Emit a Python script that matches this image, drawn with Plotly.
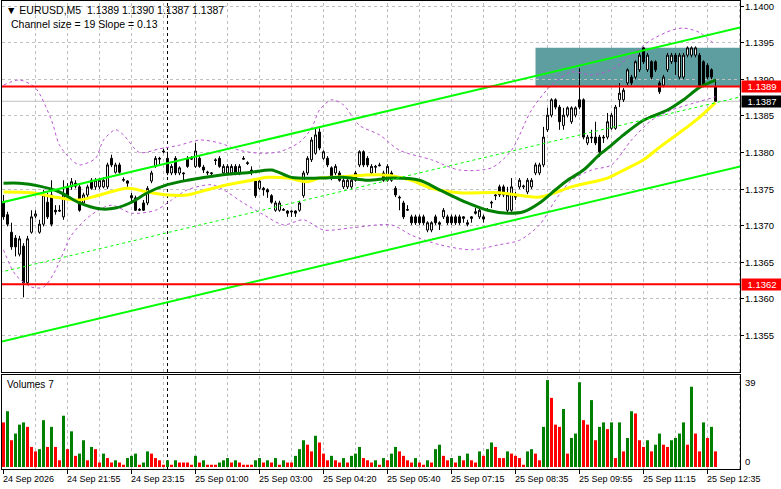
import plotly.graph_objects as go

# ---------------- data ----------------
bars = list(range(179))

open_ = [
1.13732,1.13715,1.13691,1.13683,1.13661,1.13672,1.13622,1.13691,1.13713,1.13691,
1.13702,1.13732,1.13742,1.13721,1.13721,1.13712,1.13753,1.13753,1.13758,1.13753,
1.13731,1.13742,1.13762,1.13753,1.13753,1.13753,1.13753,1.13792,1.13773,1.13783,
1.13762,1.13761,1.13741,1.13738,1.13721,1.13731,1.13731,1.13761,1.13781,1.13792,
1.13802,1.13792,1.13772,1.13792,1.13772,1.13772,1.13792,1.13792,1.13781,1.13792,
1.13780,1.13772,1.13771,1.13790,1.13792,1.13772,1.13772,1.13772,1.13781,1.13772,
1.13792,1.13786,1.13776,1.13761,1.13751,1.13751,1.13749,1.13741,1.13721,1.13721,
1.13721,1.13720,1.13720,1.13720,1.13721,1.13741,1.13772,1.13790,1.13799,1.13828,
1.13792,1.13792,1.13779,1.13772,1.13772,1.13753,1.13753,1.13753,1.13772,1.13783,
1.13801,1.13792,1.13772,1.13781,1.13783,1.13772,1.13762,1.13772,1.13751,1.13739,
1.13731,1.13721,1.13712,1.13712,1.13712,1.13712,1.13694,1.13694,1.13712,1.13704,
1.13712,1.13712,1.13712,1.13712,1.13712,1.13712,1.13704,1.13712,1.13719,1.13712,
1.13712,1.13721,1.13732,1.13742,1.13753,1.13753,1.13721,1.13721,1.13742,1.13753,
1.13753,1.13746,1.13753,1.13772,1.13772,1.13783,1.13831,1.13851,1.13872,1.13862,
1.13837,1.13851,1.13842,1.13851,1.13872,1.13872,1.13813,1.13821,1.13821,1.13821,
1.13821,1.13821,1.13833,1.13833,1.13872,1.13872,1.13895,1.13903,1.13903,1.13913,
1.13943,1.13913,1.13924,1.13924,1.13895,1.13892,1.13913,1.13924,1.13933,1.13903,
1.13903,1.13933,1.13933,1.13933,1.13933,1.13924,1.13919,1.13913,1.13890]

high_ = [
1.13742,1.13719,1.13704,1.13687,1.13686,1.13676,1.13686,1.13721,1.13721,1.13708,
1.13749,1.13745,1.13762,1.13728,1.13728,1.13762,1.13758,1.13765,1.13762,1.13757,
1.13745,1.13756,1.13765,1.13765,1.13765,1.13766,1.13786,1.13797,1.13786,1.13786,
1.13766,1.13762,1.13745,1.13741,1.13724,1.13735,1.13754,1.13775,1.13795,1.13794,
1.13805,1.13801,1.13784,1.13795,1.13781,1.13773,1.13795,1.13795,1.13813,1.13795,
1.13783,1.13775,1.13773,1.13792,1.13795,1.13784,1.13784,1.13784,1.13784,1.13784,
1.13795,1.13788,1.13781,1.13764,1.13764,1.13753,1.13751,1.13743,1.13734,1.13734,
1.13724,1.13721,1.13721,1.13721,1.13734,1.13775,1.13795,1.13821,1.13832,1.13833,
1.13803,1.13795,1.13781,1.13784,1.13775,1.13765,1.13765,1.13765,1.13775,1.13803,
1.13803,1.13795,1.13784,1.13783,1.13786,1.13775,1.13784,1.13775,1.13754,1.13741,
1.13734,1.13728,1.13715,1.13715,1.13715,1.13715,1.13706,1.13706,1.13715,1.13706,
1.13724,1.13715,1.13715,1.13715,1.13715,1.13713,1.13708,1.13713,1.13724,1.13724,
1.13715,1.13724,1.13734,1.13743,1.13756,1.13756,1.13753,1.13765,1.13746,1.13765,
1.13756,1.13765,1.13765,1.13786,1.13786,1.13835,1.13861,1.13874,1.13874,1.13865,
1.13861,1.13863,1.13863,1.13863,1.13915,1.13874,1.13824,1.13831,1.13842,1.13824,
1.13824,1.13854,1.13854,1.13865,1.13895,1.13888,1.13915,1.13906,1.13926,1.13936,
1.13944,1.13936,1.13926,1.13926,1.13898,1.13906,1.13936,1.13936,1.13936,1.13936,
1.13936,1.13945,1.13945,1.13945,1.13936,1.13926,1.13922,1.13915,1.13900]

low_ = [
1.13708,1.13699,1.13667,1.13658,1.13658,1.13602,1.13619,1.13689,1.13710,1.13689,
1.13699,1.13709,1.13699,1.13715,1.13719,1.13708,1.13735,1.13749,1.13751,1.13719,
1.13728,1.13739,1.13749,1.13749,1.13750,1.13751,1.13750,1.13780,1.13771,1.13771,
1.13760,1.13753,1.13732,1.13720,1.13720,1.13720,1.13728,1.13758,1.13779,1.13783,
1.13799,1.13769,1.13769,1.13769,1.13769,1.13762,1.13779,1.13790,1.13779,1.13779,
1.13772,1.13769,1.13769,1.13783,1.13779,1.13769,1.13769,1.13769,1.13769,1.13769,
1.13790,1.13783,1.13769,1.13738,1.13749,1.13741,1.13738,1.13730,1.13719,1.13719,
1.13720,1.13712,1.13712,1.13712,1.13719,1.13738,1.13769,1.13787,1.13797,1.13803,
1.13790,1.13780,1.13762,1.13769,1.13760,1.13750,1.13750,1.13750,1.13760,1.13780,
1.13780,1.13780,1.13769,1.13772,1.13781,1.13760,1.13760,1.13760,1.13739,1.13721,
1.13709,1.13720,1.13701,1.13701,1.13701,1.13701,1.13691,1.13691,1.13701,1.13694,
1.13709,1.13701,1.13701,1.13701,1.13701,1.13704,1.13699,1.13704,1.13715,1.13709,
1.13704,1.13720,1.13724,1.13735,1.13739,1.13739,1.13717,1.13719,1.13735,1.13750,
1.13750,1.13743,1.13750,1.13769,1.13769,1.13780,1.13828,1.13848,1.13859,1.13831,
1.13831,1.13848,1.13839,1.13848,1.13859,1.13818,1.13810,1.13813,1.13810,1.13794,
1.13813,1.13818,1.13831,1.13831,1.13862,1.13869,1.13892,1.13892,1.13900,1.13910,
1.13921,1.13910,1.13900,1.13910,1.13880,1.13889,1.13910,1.13921,1.13906,1.13900,
1.13900,1.13930,1.13930,1.13930,1.13889,1.13889,1.13900,1.13900,1.13870]

close_ = [
1.13712,1.13702,1.13671,1.13671,1.13682,1.13622,1.13682,1.13712,1.13716,1.13702,
1.13742,1.13712,1.13702,1.13719,1.13720,1.13742,1.13739,1.13760,1.13754,1.13721,
1.13742,1.13753,1.13751,1.13762,1.13762,1.13762,1.13783,1.13783,1.13783,1.13773,
1.13763,1.13758,1.13738,1.13721,1.13722,1.13721,1.13751,1.13772,1.13792,1.13791,
1.13801,1.13772,1.13781,1.13772,1.13779,1.13771,1.13781,1.13791,1.13802,1.13781,
1.13776,1.13773,1.13772,1.13789,1.13781,1.13781,1.13781,1.13781,1.13772,1.13781,
1.13791,1.13785,1.13773,1.13741,1.13761,1.13749,1.13746,1.13732,1.13731,1.13731,
1.13722,1.13717,1.13719,1.13717,1.13731,1.13772,1.13792,1.13817,1.13824,1.13806,
1.13801,1.13783,1.13765,1.13781,1.13762,1.13762,1.13762,1.13762,1.13762,1.13801,
1.13783,1.13783,1.13781,1.13780,1.13782,1.13762,1.13781,1.13762,1.13742,1.13738,
1.13712,1.13722,1.13704,1.13704,1.13704,1.13704,1.13704,1.13704,1.13704,1.13702,
1.13721,1.13704,1.13704,1.13704,1.13704,1.13710,1.13702,1.13710,1.13717,1.13721,
1.13709,1.13722,1.13731,1.13741,1.13742,1.13742,1.13742,1.13753,1.13739,1.13762,
1.13754,1.13762,1.13762,1.13783,1.13783,1.13821,1.13851,1.13872,1.13862,1.13842,
1.13851,1.13861,1.13861,1.13861,1.13862,1.13821,1.13821,1.13820,1.13813,1.13801,
1.13820,1.13842,1.13851,1.13862,1.13881,1.13885,1.13913,1.13895,1.13924,1.13933,
1.13924,1.13933,1.13903,1.13913,1.13883,1.13903,1.13933,1.13933,1.13924,1.13933,
1.13933,1.13943,1.13943,1.13943,1.13892,1.13892,1.13903,1.13903,1.13870]

volumes = [
20,25,12,15,19,20,18,9,7,8,21,9,18,9,3,23,8,16,5,6,12,3,9,8,2,6,4,2,3,2,
1,4,5,6,1,2,7,6,4,3,1,3,1,3,2,2,2,1,5,2,3,1,1,1,2,3,4,2,3,2,1,1,1,3,4,
2,3,2,4,1,3,2,2,5,8,12,10,7,14,11,6,3,5,3,2,4,2,5,6,9,4,3,2,3,1,
4,3,6,9,7,5,3,2,4,2,1,3,2,8,10,5,3,4,2,5,3,6,3,2,7,5,8,11,9,
4,4,7,6,5,4,1,7,8,6,3,18,39,31,19,18,26,6,13,15,38,21,19,30,12,18,20,17,20,4,
20,7,13,25,24,12,9,12,7,10,15,10,9,12,13,15,20,10,36,15,7,20,13,18,7]

# moving averages
ma_fast_bars = [0,4,9,14,19,24,28,32,36,41,46,54,62,67,72,79,85,91,97,104,109,116,121,126,130,134,138,141,145,149,152,155,160,166,170,174,178]
ma_fast_vals = [1.13758,1.13758,1.13754,1.13746,1.13731,1.13723,1.13724,1.13732,1.13745,1.13756,1.13762,1.13769,1.13773,1.13776,1.13766,1.13765,1.13766,1.13762,1.13765,1.13762,1.13749,1.13731,1.13721,1.13717,1.13719,1.13731,1.13749,1.13762,1.13776,1.13797,1.13810,1.13824,1.13844,1.13858,1.13872,1.13889,1.13899]

ma_slow_bars = [0,7,14,19,24,31,36,41,46,51,56,62,66,71,76,79,82,90,96,102,107,114,124,134,142,151,154,160,164,170,174,178]
ma_slow_vals = [1.13746,1.13745,1.13738,1.13735,1.13742,1.13751,1.13746,1.13742,1.13742,1.13749,1.13756,1.13762,1.13766,1.13765,1.13760,1.13765,1.13766,1.13769,1.13769,1.13762,1.13751,1.13745,1.13745,1.13739,1.13753,1.13765,1.13773,1.13790,1.13807,1.13831,1.13848,1.13868]

band_up_bars = [0,4,8,12,14,17,19,23,25,28,30,34,39,44,49,54,59,64,69,74,77,79,82,85,89,94,99,107,114,122,127,132,137,142,147,152,157,162,167,170,174,178]
band_up_vals = [1.13892,1.13899,1.13888,1.13844,1.13810,1.13790,1.13783,1.13792,1.13817,1.13831,1.13824,1.13800,1.13805,1.13810,1.13817,1.13813,1.13803,1.13799,1.13801,1.13814,1.13833,1.13858,1.13872,1.13865,1.13837,1.13824,1.13803,1.13790,1.13776,1.13779,1.13803,1.13858,1.13892,1.13910,1.13906,1.13913,1.13933,1.13954,1.13967,1.13970,1.13964,1.13947]

band_lo_bars = [0,3,7,10,13,17,22,27,32,38,42,46,52,55,60,65,70,75,80,87,97,102,109,117,124,129,134,138,142,147,152,157,162,167,171,178]
band_lo_vals = [1.13667,1.13633,1.13616,1.13616,1.13639,1.13687,1.13715,1.13728,1.13717,1.13721,1.13735,1.13749,1.13756,1.13749,1.13731,1.13715,1.13701,1.13708,1.13694,1.13697,1.13701,1.13687,1.13674,1.13667,1.13674,1.13680,1.13701,1.13735,1.13762,1.13776,1.13783,1.13817,1.13844,1.13858,1.13865,1.13876]

# regression channel (end points)
chan_x = [-1, 185]
chan_upper = [1.13731, 1.13972]
chan_mid = [1.13636, 1.13877]
chan_lower = [1.13541, 1.13782]

levels_red = [1.1389, 1.1362]
last_price = 1.1387
zone = dict(x0=133, low=1.13890, high=1.13943)
separator_bar = 41

price_ticks = [1.1355, 1.1360, 1.1365, 1.1370, 1.1375, 1.1380, 1.1385, 1.1390, 1.1395, 1.1400]
time_ticks = [0, 16, 32, 48, 64, 80, 96, 112, 128, 144, 160, 176]
time_labels = ["24 Sep 2026", "24 Sep 21:55", "24 Sep 23:15", "25 Sep 01:00", "25 Sep 03:00",
               "25 Sep 04:20", "25 Sep 05:40", "25 Sep 07:15", "25 Sep 08:35", "25 Sep 09:55",
               "25 Sep 11:15", "25 Sep 12:35"]
grid_bars = list(range(8, 185, 8))

# ---------------- layout geometry ----------------
W, H = 781, 489
ML, MR, MT, MB = 2, 41, 1, 20
PW = W - ML - MR
PH = H - MT - MB

def px(x):
    return (x - ML) / PW

def py(y):
    return (H - MB - y) / PH

FONT = "Liberation Sans, Arial, DejaVu Sans, sans-serif"
FS = 9.5

vol_colors = []
for i, v in enumerate(volumes):
    if i > 0 and v > volumes[i - 1]:
        vol_colors.append("#008000")
    else:
        vol_colors.append("#FF0000")

fig = go.Figure()

for bx, bv in [(band_up_bars, band_up_vals), (band_lo_bars, band_lo_vals)]:
    fig.add_trace(go.Scatter(x=bx, y=bv, mode="lines",
                             line=dict(color="#BA55D3", width=1, dash="3px,3px", shape="spline", smoothing=0.8),
                             xaxis="x", yaxis="y", hoverinfo="skip", showlegend=False))

fig.add_trace(go.Candlestick(x=bars, open=open_, high=high_, low=low_, close=close_,
                             increasing=dict(line=dict(color="black", width=1), fillcolor="white"),
                             decreasing=dict(line=dict(color="black", width=1), fillcolor="black"),
                             whiskerwidth=0, xaxis="x", yaxis="y", hoverinfo="skip", showlegend=False))

fig.add_trace(go.Scatter(x=ma_slow_bars, y=ma_slow_vals, mode="lines",
                         line=dict(color="#FFFF00", width=3, shape="spline", smoothing=0.8),
                         xaxis="x", yaxis="y", hoverinfo="skip", showlegend=False))
fig.add_trace(go.Scatter(x=ma_fast_bars, y=ma_fast_vals, mode="lines",
                         line=dict(color="#008000", width=3, shape="spline", smoothing=0.8),
                         xaxis="x", yaxis="y", hoverinfo="skip", showlegend=False))

for vals, w, d in [(chan_upper, 2, "solid"), (chan_lower, 2, "solid"), (chan_mid, 1, "3px,3px")]:
    fig.add_trace(go.Scatter(x=chan_x, y=vals, mode="lines",
                             line=dict(color="#00FF00", width=w, dash=d),
                             xaxis="x", yaxis="y", hoverinfo="skip", showlegend=False))

for lv in levels_red:
    fig.add_trace(go.Scatter(x=chan_x, y=[lv, lv], mode="lines",
                             line=dict(color="#FF0000", width=2),
                             xaxis="x", yaxis="y", hoverinfo="skip", showlegend=False))

fig.add_trace(go.Bar(x=bars, y=volumes, marker=dict(color=vol_colors, line=dict(width=0)),
                     width=0.75, xaxis="x2", yaxis="y2", hoverinfo="skip", showlegend=False))

shapes = []
shapes.append(dict(type="rect", xref="x", yref="y", x0=zone["x0"], x1=190,
                   y0=zone["low"], y1=zone["high"], fillcolor="#5F9EA0",
                   line=dict(width=0), layer="below"))
shapes.append(dict(type="line", xref="paper", yref="y", x0=0, x1=1, y0=last_price, y1=last_price,
                   line=dict(color="#C0C0C0", width=1), layer="below"))
for b in grid_bars:
    for yr in ["y domain", "y2 domain"]:
        shapes.append(dict(type="line", xref="x", yref=yr, x0=b, x1=b, y0=0, y1=1,
                           line=dict(color="#C0C0C0", width=1, dash="3px,3px"), layer="below"))
for yr in ["y domain", "y2 domain"]:
    shapes.append(dict(type="line", xref="x", yref=yr, x0=separator_bar, x1=separator_bar, y0=0, y1=1,
                       line=dict(color="black", width=1, dash="3px,3px"), layer="below"))

annotations = []
def txt(t, x, y, size=FS, **kw):
    d = dict(text=t, x=px(x), y=py(y), xref="paper", yref="paper", xanchor="left",
             yanchor="middle", showarrow=False, borderpad=0,
             font=dict(family=FONT, size=size, color="black"))
    d.update(kw)
    annotations.append(d)

txt("▼ EURUSD,M5\u00a0\u00a01.1389 1.1390 1.1387 1.1387", 5, 10, size=10.5)
txt("Channel size = 19 Slope = 0.13", 10, 24, size=10.5)
txt("Volumes 7", 6, 384, size=10)
txt("39", 744, 382)
txt("0", 744, 461)
for t in price_ticks:
    annotations.append(dict(text=f"{t:.4f}", x=px(744), y=t, xref="paper", yref="y",
                            xanchor="left", yanchor="middle", showarrow=False, borderpad=0,
                            font=dict(family=FONT, size=FS, color="black")))
for val, bg in [(levels_red[0], "#FF0000"), (last_price, "#000000"), (levels_red[1], "#FF0000")]:
    annotations.append(dict(text=f"{val:.4f}", x=px(741), y=val, xref="paper", yref="y",
                            xanchor="left", yanchor="middle", showarrow=False, bgcolor=bg,
                            width=40, height=11, borderpad=0, align="center",
                            font=dict(family=FONT, size=FS, color="white")))
for b, lab in zip(time_ticks, time_labels):
    annotations.append(dict(text=lab, x=b, y=py(479), xref="x2", yref="paper",
                            xanchor="left", yanchor="middle", showarrow=False, xshift=-2, borderpad=0,
                            font=dict(family=FONT, size=9, color="black")))

xr = [-0.375, 184.125]
fig.update_layout(
    width=W, height=H,
    margin=dict(l=ML, r=MR, t=MT, b=MB),
    paper_bgcolor="white", plot_bgcolor="white",
    hovermode=False, showlegend=False,
    shapes=shapes, annotations=annotations,
    xaxis=dict(domain=[0, 1], anchor="y", range=xr, showgrid=False, zeroline=False,
               showticklabels=False, ticks="", showline=True, mirror=True,
               linecolor="black", linewidth=1, rangeslider=dict(visible=False)),
    xaxis2=dict(domain=[0, 1], anchor="y2", range=xr, matches="x", showgrid=False, zeroline=False,
                tickvals=time_ticks, ticks="outside", ticklen=4, tickcolor="black",
                showticklabels=False, showline=True, mirror=True, linecolor="black", linewidth=1),
    yaxis=dict(domain=[py(372), 1], anchor="x", side="right", range=[1.13500, 1.14007],
               tickvals=price_ticks, ticks="outside", ticklen=3, tickcolor="black",
               showticklabels=False,
               showgrid=True, gridcolor="#C0C0C0", griddash="3px,3px", gridwidth=1,
               zeroline=False, showline=True, mirror=True, linecolor="black", linewidth=1),
    yaxis2=dict(domain=[0, py(375)], anchor="x2", side="right", range=[-0.9, 41.26],
                showgrid=False, zeroline=False, showticklabels=False, ticks="",
                showline=True, mirror=True, linecolor="black", linewidth=1),
)

fig.write_html("out.html", config={"displayModeBar": False, "staticPlot": True},
               post_script="document.body.style.margin='0';document.body.style.overflow='hidden';"
                           "document.documentElement.style.overflow='hidden';")
